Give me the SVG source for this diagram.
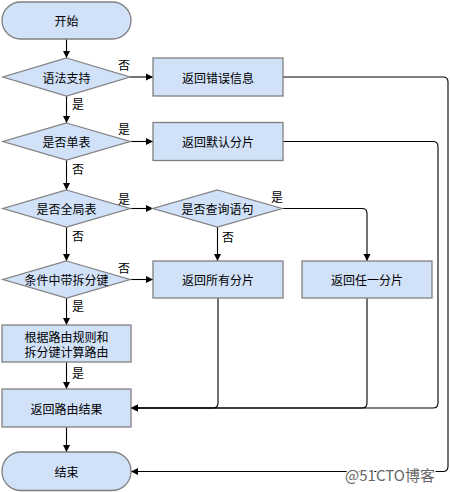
<svg xmlns="http://www.w3.org/2000/svg" width="450" height="492" viewBox="0 0 450 492">
<defs>
<marker id="ah" markerWidth="8" markerHeight="8" refX="7" refY="4" orient="auto" markerUnits="userSpaceOnUse">
<path d="M0,0.5 L7,4 L0,7.5 Z" fill="#000"/>
</marker>
<style>
.n{fill:#d0e1f8;stroke:#808080;stroke-width:1.3}
.t{font-family:"Noto Sans CJK SC","Liberation Sans",sans-serif;font-size:12px;fill:#000;text-anchor:middle;dominant-baseline:central}
.l{font-family:"Noto Sans CJK SC","Liberation Sans",sans-serif;font-size:12px;fill:#000;text-anchor:middle;dominant-baseline:central}
.c{fill:none;stroke:#000;stroke-width:1.1}
.ca{fill:none;stroke:#000;stroke-width:1.1;marker-end:url(#ah)}
</style>
</defs>
<rect width="450" height="492" fill="#fff"/>
<g id="connectors">
<path class="ca" d="M66.5,39 V58"/>
<path class="ca" d="M130,77 H153"/>
<path class="ca" d="M66.5,96 V123"/>
<path class="ca" d="M130,141.5 H153"/>
<path class="ca" d="M66.5,160 V190"/>
<path class="ca" d="M130,208.5 H153"/>
<path class="ca" d="M217.5,227 V261"/>
<path class="ca" d="M282,208.5 H362 Q367,208.5 367,213.5 V261"/>
<path class="ca" d="M66.5,227 V261"/>
<path class="ca" d="M130,279.5 H153"/>
<path class="ca" d="M66.5,298 V325"/>
<path class="ca" d="M66.5,362 V389"/>
<path class="ca" d="M66.5,427 V452"/>
<path class="ca" d="M218,298 V403 Q218,408 213,408 H131"/>
<path class="ca" d="M367,298 V403 Q367,408 362,408 H131"/>
<path class="ca" d="M283,141.5 H433 Q438,141.5 438,146.5 V403 Q438,408 433,408 H131"/>
<path class="ca" d="M283,77 H443 Q448,77 448,82 V466 Q448,471.5 443,471.5 H131"/>
</g>
<g id="start"><rect class="n" x="2" y="2" width="129" height="37" rx="18.5"/><text class="t" x="66.5" y="20.5">开始</text></g>
<g id="d1"><polygon class="n" points="66.5,58 130,77 66.5,96 3,77"/><text class="t" x="66.5" y="77">语法支持</text></g>
<g id="err"><rect class="n" x="153" y="58" width="130" height="38"/><text class="t" x="218" y="77">返回错误信息</text></g>
<g id="d2"><polygon class="n" points="66.5,123 130,141.5 66.5,160 3,141.5"/><text class="t" x="66.5" y="141.5">是否单表</text></g>
<g id="def"><rect class="n" x="153" y="122.5" width="130" height="38"/><text class="t" x="218" y="141.5">返回默认分片</text></g>
<g id="d3"><polygon class="n" points="66.5,190 130,208.5 66.5,227 3,208.5"/><text class="t" x="66.5" y="208.5">是否全局表</text></g>
<g id="d4"><polygon class="n" points="217.5,190 282,208.5 217.5,227 153,208.5"/><text class="t" x="217.5" y="208.5">是否查询语句</text></g>
<g id="d5"><polygon class="n" points="66.5,261 130,279.5 66.5,298 3,279.5"/><text class="t" x="66.5" y="279.5">条件中带拆分键</text></g>
<g id="all"><rect class="n" x="153" y="261" width="130" height="37"/><text class="t" x="218" y="279.5">返回所有分片</text></g>
<g id="any"><rect class="n" x="302" y="261" width="130" height="37"/><text class="t" x="367" y="279.5">返回任一分片</text></g>
<g id="calc"><rect class="n" x="2" y="325" width="129" height="37"/><text class="t" x="66.5" y="336">根据路由规则和</text><text class="t" x="66.5" y="351.5">拆分键计算路由</text></g>
<g id="ret"><rect class="n" x="2" y="389" width="129" height="38"/><text class="t" x="66.5" y="408">返回路由结果</text></g>
<g id="end"><rect class="n" x="2" y="452" width="129" height="38.5" rx="19"/><text class="t" x="66.5" y="471">结束</text></g>
<g id="labels">
<text class="l" x="124" y="64">否</text>
<text class="l" x="78" y="103">是</text>
<text class="l" x="124" y="128">是</text>
<text class="l" x="78" y="168">否</text>
<text class="l" x="124" y="198">是</text>
<text class="l" x="277" y="196">是</text>
<text class="l" x="78" y="235">否</text>
<text class="l" x="228" y="236">否</text>
<text class="l" x="124" y="267">否</text>
<text class="l" x="78" y="305">是</text>
<text class="l" x="78" y="372">是</text>
</g>
<text x="390" y="474" font-family="Noto Sans CJK SC,Liberation Sans,sans-serif" font-size="15" fill="#666" stroke="#fff" stroke-width="3" paint-order="stroke" text-anchor="middle" dominant-baseline="central">@51CTO博客</text>
</svg>
